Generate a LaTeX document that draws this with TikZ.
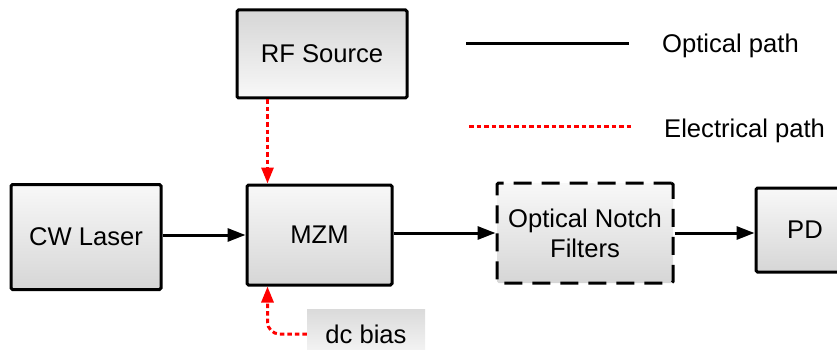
\documentclass[tikz,border=0pt]{standalone}
\usepackage{fontspec}
\setmainfont{Liberation Sans}
\usetikzlibrary{arrows.meta}
\definecolor{boxlight}{HTML}{F8F8F8}
\definecolor{boxdark}{HTML}{D6D6D6}
\tikzset{
  blockbox/.style={draw=black, line width=3pt, rounded corners=1.5pt,
    top color=boxlight, bottom color=boxdark, inner sep=0pt,
    font=\fontsize{25.6}{30}\selectfont, align=center},
  blockflip/.style={blockbox, top color=boxdark, bottom color=boxlight},
  dashbox/.style={blockbox, dash pattern=on 18pt off 10pt},
  tagbox/.style={draw=none, top color=boxdark!90, bottom color=boxlight,
    inner sep=0pt, font=\fontsize{25.6}{30}\selectfont},
  legendtext/.style={inner sep=0pt, anchor=base west, font=\fontsize{25.6}{30}\selectfont},
  opt/.style={draw=black, line width=3pt, -{Triangle[length=18pt,width=13pt]}},
  elec/.style={draw=red, line width=3pt, dash pattern=on 4.5pt off 3pt,
    -{Triangle[length=16pt,width=12pt]}},
}
\begin{document}
\begin{tikzpicture}[x=1pt, y=-1pt]
  \useasboundingbox (0,0) rectangle (837,350);
  \clip (0,0) rectangle (837,350);

  % blocks of the link
  \node[blockbox, minimum width=150pt, minimum height=105pt] (laser) at (86,237) {CW Laser};
  \node[blockbox, minimum width=145pt, minimum height=100pt] (mzm) at (319.5,235) {MZM};
  \node[blockflip, minimum width=170pt, minimum height=88pt] (rf) at (322,54) {RF Source};
  \node[dashbox, minimum width=176pt, minimum height=100pt] (onf) at (585,233) {Optical Notch\\Filters};
  \node[blockbox, minimum width=98pt, minimum height=84pt] (pd) at (805,230) {PD};
  \node[tagbox, minimum width=118pt, minimum height=50pt] (dc) at (366,334) {dc bias};

  % optical connections
  \draw[opt] (laser.east |- mzm.west) -- (mzm.west);
  \draw[opt] (mzm.east |- onf.west) -- (onf.west);
  \draw[opt] (onf.east) -- (onf.east -| pd.west);

  % electrical connections
  \coordinate (rfin) at ([xshift=22pt]mzm.north west);
  \coordinate (biasin) at ([xshift=22pt]mzm.south west);
  \draw[elec] (rfin |- rf.south) -- (rfin);
  \draw[elec, rounded corners=12pt] (dc.west) -| (biasin);

  % legend
  \coordinate (oa) at (466,44);
  \coordinate (ob) at (629,44);
  \coordinate (ea) at (469,126);
  \coordinate (eb) at (632,126);
  \draw[black, line width=3pt] (oa) -- (ob);
  \draw[red, line width=3pt, dash pattern=on 4.5pt off 3pt] (ea) -- (eb);
  \node[legendtext] (optlabel) at (662,53) {Optical path};
  \node[legendtext] (eleclabel) at (664,137) {Electrical path};
\end{tikzpicture}
\end{document}
